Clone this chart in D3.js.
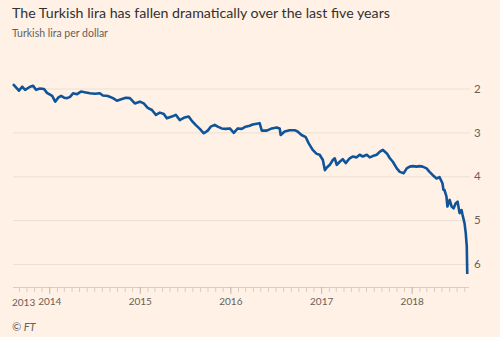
<!DOCTYPE html>
<html>
<head>
<meta charset="utf-8">
<script src="https://cdn.jsdelivr.net/npm/d3@7"></script>
<style>
  html, body { margin: 0; padding: 0; background: #fff1e5; }
  svg { display: block; font-family: Lato, "Open Sans", sans-serif; }
</style>
</head>
<body>
<svg id="chart" width="500" height="337"></svg>
<script>
// lira per dollar
const dates = [
  "2013-08-08","2013-09-01","2013-09-14","2013-09-26","2013-10-16","2013-10-28","2013-11-09","2013-11-25",
  "2013-12-11","2013-12-23","2014-01-13","2014-01-25","2014-02-06","2014-02-18","2014-03-02","2014-03-14",
  "2014-03-26","2014-04-07","2014-04-23","2014-05-09","2014-05-29","2014-06-14","2014-07-04","2014-07-24",
  "2014-08-05","2014-08-25","2014-09-15","2014-10-01","2014-10-21","2014-11-06","2014-11-22","2014-12-12",
  "2015-01-01","2015-01-17","2015-02-02","2015-02-19","2015-03-07","2015-03-23","2015-04-08","2015-04-20",
  "2015-05-10","2015-05-26","2015-06-11","2015-07-01","2015-07-17","2015-07-29","2015-08-14","2015-08-31",
  "2015-09-16","2015-10-02","2015-10-14","2015-10-30","2015-11-11","2015-11-27","2015-12-13","2015-12-30",
  "2016-01-15","2016-01-31","2016-02-16","2016-03-03","2016-03-19","2016-03-31","2016-04-28","2016-05-07",
  "2016-05-27","2016-06-16","2016-07-06","2016-07-18","2016-07-22","2016-08-07","2016-08-27","2016-09-16",
  "2016-09-28","2016-10-14","2016-10-31","2016-11-12","2016-11-28","2016-12-14","2016-12-26","2017-01-08",
  "2017-01-16","2017-01-24","2017-02-05","2017-02-17","2017-02-25","2017-03-05","2017-03-17","2017-03-29",
  "2017-04-10","2017-04-26","2017-05-08","2017-05-24","2017-06-05","2017-06-18","2017-07-04","2017-07-16",
  "2017-07-28","2017-08-13","2017-08-26","2017-09-07","2017-09-23","2017-10-05","2017-10-17","2017-11-02",
  "2017-11-14","2017-11-30","2017-12-12","2017-12-24","2018-01-05","2018-01-21","2018-02-02","2018-02-14",
  "2018-03-02","2018-03-14","2018-03-26","2018-04-11","2018-04-23","2018-05-05","2018-05-09","2018-05-13",
  "2018-05-21","2018-05-25","2018-06-03","2018-06-11","2018-06-19","2018-06-27","2018-07-05","2018-07-13",
  "2018-07-21","2018-07-25","2018-08-02","2018-08-07","2018-08-11","2018-08-13"
];
const lira = [
  1.90,2.05,1.96,2.03,1.96,1.94,2.03,2.00,
  2.01,2.10,2.17,2.30,2.21,2.17,2.21,2.22,
  2.19,2.11,2.13,2.07,2.09,2.11,2.12,2.11,
  2.16,2.17,2.22,2.28,2.24,2.21,2.22,2.34,
  2.30,2.34,2.44,2.49,2.60,2.55,2.58,2.68,
  2.64,2.60,2.72,2.66,2.64,2.73,2.83,2.92,
  3.02,2.96,2.87,2.83,2.87,2.91,2.92,2.91,
  3.01,2.91,2.92,2.87,2.85,2.82,2.79,2.96,
  2.96,2.91,2.89,2.91,3.06,2.98,2.95,2.95,
  2.98,3.06,3.11,3.25,3.40,3.49,3.51,3.63,
  3.86,3.80,3.74,3.63,3.59,3.74,3.67,3.61,
  3.70,3.59,3.55,3.57,3.51,3.55,3.51,3.57,
  3.54,3.51,3.44,3.40,3.48,3.59,3.67,3.82,
  3.90,3.93,3.82,3.78,3.77,3.78,3.77,3.78,
  3.82,3.90,3.97,4.05,4.02,4.16,4.31,4.31,
  4.46,4.69,4.54,4.69,4.73,4.62,4.58,4.84,
  4.77,4.88,5.07,5.30,5.60,6.23
];
const yTicks = [2, 3, 4, 5, 6];
const yearTicks = ["2014", "2015", "2016", "2017", "2018"];
const startLabel = "2013";

const parse = d3.timeParse("%Y-%m-%d");
const series = dates.map((d, i) => ({ date: parse(d), value: lira[i] }));

const svg = d3.select("#chart");

svg.append("text").attr("x", 12).attr("y", 18)
  .style("font-size", "14.2px").style("fill", "#33302e")
  .text("The Turkish lira has fallen dramatically over the last five years");
svg.append("text").attr("x", 12).attr("y", 37)
  .style("font-size", "10.5px").style("fill", "#66605c")
  .text("Turkish lira per dollar");

const x = d3.scaleTime()
  .domain([parse("2013-08-08"), parse("2018-08-20")])
  .range([13, 469]);
const y = d3.scaleLinear().domain([2, 6]).range([88.5, 264]);

// grid + right labels
const yAxis = svg.append("g")
  .attr("transform", "translate(470,0)")
  .call(d3.axisRight(y).tickValues(yTicks).tickSize(-457).tickPadding(4).tickFormat(d3.format("d")));
yAxis.select(".domain").remove();
yAxis.selectAll(".tick line").attr("stroke", "#ebe0d6");
yAxis.selectAll(".tick text").attr("fill", "#66605c")
  .style("font-size", "11.5px").style("font-family", "Lato, sans-serif");

// month ticks
const xMinor = svg.append("g")
  .attr("transform", "translate(0,287)")
  .call(d3.axisBottom(x).ticks(d3.timeMonth.every(1)).tickSize(5).tickFormat(""));
xMinor.select(".domain").attr("stroke", "#d9cdc2").attr("d", "M13,0.5H469");
xMinor.selectAll(".tick line").attr("stroke", "#d9cdc2");

// year ticks + labels
const xMajor = svg.append("g")
  .attr("transform", "translate(0,287)")
  .call(d3.axisBottom(x).tickValues(yearTicks.map(t => parse(t + "-01-01")))
    .tickSize(7).tickPadding(4).tickFormat(d3.timeFormat("%Y")));
xMajor.select(".domain").remove();
xMajor.selectAll(".tick line").attr("stroke", "#c9bdb2");
xMajor.selectAll(".tick text").attr("fill", "#66605c")
  .style("font-size", "10px").style("font-family", "Lato, sans-serif");

svg.append("text")
  .attr("x", x.range()[0] - 1).attr("y", 305.5)
  .style("font-size", "10px").style("fill", "#66605c")
  .text(startLabel);

const line = d3.line().x(d => x(d.date)).y(d => y(d.value));
svg.append("path").datum(series)
  .attr("d", line)
  .attr("fill", "none")
  .attr("stroke", "#0f5499")
  .attr("stroke-width", 2.6)
  .attr("stroke-linejoin", "round");

svg.append("text").attr("x", 12).attr("y", 331)
  .style("font-size", "11px").style("font-style", "italic").style("fill", "#66605c")
  .text("© FT");
</script>
</body>
</html>
